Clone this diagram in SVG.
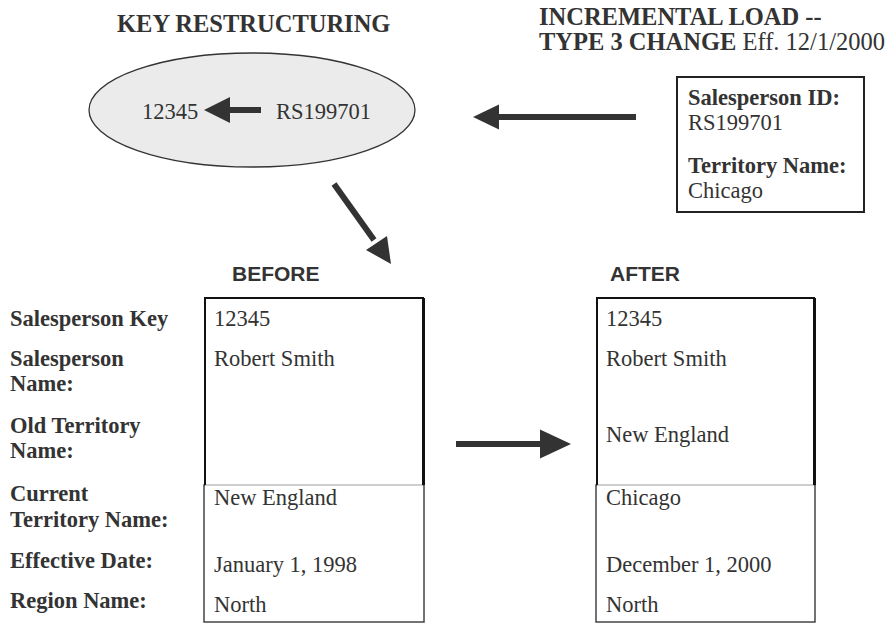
<svg xmlns="http://www.w3.org/2000/svg" width="893" height="624" viewBox="0 0 893 624">
<defs>
<style>
.t{font-family:"Liberation Serif","Times New Roman",serif;font-size:22.5px;fill:#333}
.b{font-weight:bold}
.h{font-family:"Liberation Serif","Times New Roman",serif;font-size:24.5px;fill:#333}
.s{font-family:"Liberation Sans",Arial,sans-serif;font-size:21px;font-weight:bold;fill:#333}
.ln{stroke:#333;stroke-width:6;fill:none}
.hd{fill:#333}
</style>
</defs>
<rect width="893" height="624" fill="#fff"/>
<g id="titles">
<text class="h b" x="117" y="32">KEY RESTRUCTURING</text>
<text class="h b" x="539" y="25">INCREMENTAL LOAD --</text>
<text class="h" x="539" y="50"><tspan class="b">TYPE 3 CHANGE</tspan> Eff. 12/1/2000</text>
<text class="s" x="232" y="281">BEFORE</text>
<text class="s" x="610" y="281">AFTER</text>
</g>
<g id="key-ellipse">
<ellipse cx="252" cy="110" rx="163" ry="57" fill="#ebebeb" stroke="#333" stroke-width="1.3"/>
<text class="t" x="142" y="119">12345</text>
<text class="t" x="276" y="119">RS199701</text>
<line class="ln" x1="261" y1="110" x2="228" y2="110"/>
<polygon class="hd" points="204,110 230,97 230,123"/>
</g>
<g id="source-record">
<rect x="677" y="77" width="187" height="135" fill="#fff" stroke="#222" stroke-width="2"/>
<text class="t b" x="688" y="105">Salesperson ID:</text>
<text class="t" x="688" y="130">RS199701</text>
<text class="t b" x="688" y="173">Territory Name:</text>
<text class="t" x="688" y="198">Chicago</text>
</g>
<g id="labels">
<text class="t b" x="10" y="326">Salesperson Key</text>
<text class="t b" x="10" y="366">Salesperson</text>
<text class="t b" x="10" y="391">Name:</text>
<text class="t b" x="10" y="433">Old Territory</text>
<text class="t b" x="10" y="458">Name:</text>
<text class="t b" x="10" y="501">Current</text>
<text class="t b" x="10" y="527">Territory Name:</text>
<text class="t b" x="10" y="568">Effective Date:</text>
<text class="t b" x="10" y="608">Region Name:</text>
</g>
<g id="before-record">
<rect x="204" y="485" width="220" height="137" fill="#fff" stroke="#444" stroke-width="1.5"/>
<line x1="205" y1="485" x2="423" y2="485" stroke="#eee" stroke-width="1.5"/>
<path d="M205,485 V298 H423 V485" fill="none" stroke="#111" stroke-width="2"/>
<line x1="423.5" y1="298" x2="423.5" y2="485" stroke="#111" stroke-width="3"/>
<text class="t" x="214" y="326">12345</text>
<text class="t" x="214" y="366">Robert Smith</text>
<text class="t" x="214" y="505">New England</text>
<text class="t" x="214" y="572">January 1, 1998</text>
<text class="t" x="214" y="612">North</text>
</g>
<g id="after-record">
<rect x="596" y="485" width="219" height="137" fill="#fff" stroke="#444" stroke-width="1.5"/>
<line x1="597" y1="485" x2="814" y2="485" stroke="#eee" stroke-width="1.5"/>
<path d="M597,485 V298 H814 V485" fill="none" stroke="#111" stroke-width="2"/>
<line x1="814.5" y1="298" x2="814.5" y2="485" stroke="#111" stroke-width="3"/>
<text class="t" x="606" y="326">12345</text>
<text class="t" x="606" y="366">Robert Smith</text>
<text class="t" x="606" y="442">New England</text>
<text class="t" x="606" y="505">Chicago</text>
<text class="t" x="606" y="572">December 1, 2000</text>
<text class="t" x="606" y="612">North</text>
</g>
<g id="connectors">
<line class="ln" x1="636" y1="117" x2="496" y2="117"/>
<polygon class="hd" points="473,117 499,104.5 499,129.5"/>
<line class="ln" x1="334" y1="184" x2="374" y2="240"/>
<polygon class="hd" points="391,264 366,250 387,236"/>
<line class="ln" x1="456" y1="444" x2="543" y2="444"/>
<polygon class="hd" points="571,444 540,429.5 540,458.5"/>
</g>
</svg>
